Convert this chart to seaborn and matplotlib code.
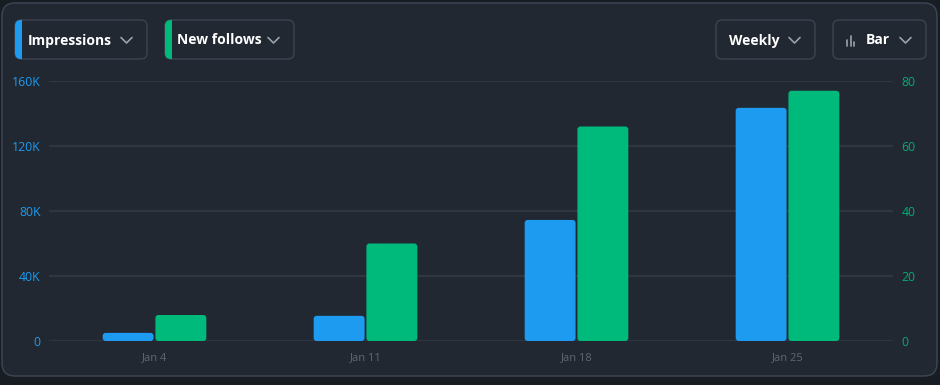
import numpy as np
import pandas as pd
import matplotlib
matplotlib.use("Agg")
import matplotlib.pyplot as plt
import seaborn as sns
from matplotlib.patches import FancyBboxPatch, Rectangle
from matplotlib.ticker import FuncFormatter, FixedLocator

# ---- data ----
weeks = ["Jan 4", "Jan 11", "Jan 18", "Jan 25"]
impressions = [5000, 15500, 74500, 143500]
new_follows = [8, 30, 66, 77]
left_ticks = [0, 40000, 80000, 120000, 160000]
right_ticks = [0, 20, 40, 60, 80]
buttons = ["Impressions", "New follows", "Weekly", "Bar"]

BG = "#212832"
OUTER = "#181d24"
GRID = "#2e3641"
BLUE = "#1d9bf0"
GREEN = "#00ba7c"
GREEN_TXT = "#00ad72"
XT = "#5f676f"

sns.set_theme(style="dark")
plt.rcParams["font.family"] = ["Open Sans", "DejaVu Sans"]

W, H = 940, 385
fig = plt.figure(figsize=(W / 100, H / 100), dpi=100, facecolor=OUTER)

# overlay (pixel coords) for card & buttons
ov = fig.add_axes([0, 0, 1, 1], zorder=0)
ov.set_xlim(0, W)
ov.set_ylim(H, 0)
ov.axis("off")
ov.patch.set_alpha(0)

card = FancyBboxPatch((2, 3), 935, 373, boxstyle="round,pad=0,rounding_size=13",
                      fc=BG, ec="#3d4754", lw=1.0)
ov.add_patch(card)

def button(x0, x1, label, tx, chev_x, strip=None, icon=False):
    b = FancyBboxPatch((x0, 20), x1 - x0, 39, boxstyle="round,pad=0,rounding_size=6",
                       fc=BG, ec="#3a4451", lw=1.0)
    ov.add_patch(b)
    if strip is not None:
        r = Rectangle((x0, 20), 6.5, 39, fc=strip, ec="none")
        ov.add_patch(r)
        r.set_clip_path(b)
    ov.text(tx, 40.5, label, color="white", fontsize=10.0, fontweight="bold",
            ha="left", va="center")
    ov.plot([chev_x, chev_x + 5.5, chev_x + 11], [37.5, 43, 37.5], color="#9aa3ab",
            lw=1.2, solid_capstyle="round")
    if icon:
        for xi, h in zip([847, 850.5, 854], [6, 10, 4]):
            ov.plot([xi, xi], [45.5, 45.5 - h], color="#9aa3ab", lw=1.2)

button(15, 147, buttons[0], 28, 121, strip=BLUE)
button(165, 294, buttons[1], 177, 268, strip=GREEN)
button(716, 815, buttons[2], 729, 789)
button(833, 926, buttons[3], 866, 900, icon=True)

# ---- main chart ----
ax = fig.add_axes([49 / W, (H - 341) / H, (893 - 49) / W, (341 - 81) / H], zorder=2)
ax.patch.set_alpha(0)
ax2 = ax.twinx()
ax2.patch.set_alpha(0)

order = ["Impressions", "New follows"]
pal = {"Impressions": BLUE, "New follows": GREEN}
df = pd.DataFrame({
    "week": weeks * 2,
    "value": impressions + new_follows,
    "metric": ["Impressions"] * len(weeks) + ["New follows"] * len(weeks),
})
df_left = df.assign(value=df["value"].where(df["metric"] == "Impressions", 0))
df_right = df.assign(value=df["value"].where(df["metric"] == "New follows", 0))

for a, d in ((ax, df_left), (ax2, df_right)):
    sns.barplot(data=d, x="week", y="value", hue="metric", hue_order=order, order=weeks,
                palette=pal, width=0.5, gap=0.035, ax=a, legend=False, saturation=1,
                errorbar=None, zorder=3)

ax.set_xlim(-0.5, 3.5)
ax.set_ylim(0, 160000)
ax2.set_ylim(0, 80)
ax.yaxis.set_major_locator(FixedLocator(left_ticks))
ax2.yaxis.set_major_locator(FixedLocator(right_ticks))
ax.yaxis.set_major_formatter(FuncFormatter(lambda v, p: "0" if v == 0 else f"{int(v/1000)}K"))

for a in (ax, ax2):
    a.set_xlabel("")
    a.set_ylabel("")
    for s in a.spines.values():
        s.set_visible(False)
    a.grid(False)

for t in left_ticks:
    ax.axhline(t, color=GRID, lw=1.6, zorder=1)

ax.tick_params(axis="y", colors=BLUE, labelsize=8.8, length=0, pad=6)
ax2.tick_params(axis="y", colors=GREEN_TXT, labelsize=8.8, length=0, pad=6)
ax.tick_params(axis="x", colors=XT, labelsize=8.0, length=0, pad=8)
for lab in ax.get_yticklabels():
    lab.set_color(BLUE)
for lab in ax2.get_yticklabels():
    lab.set_color(GREEN_TXT)
for lab in ax.get_xticklabels():
    lab.set_color(XT)

# rounded bar corners
fig.canvas.draw()
for a in (ax, ax2):
    for p in list(a.patches):
        if not isinstance(p, Rectangle):
            continue
        h = p.get_height()
        if np.isnan(h) or h == 0:
            p.set_visible(False)
            continue
        bb = p.get_window_extent()
        fc = p.get_facecolor()
        p.set_visible(False)
        nb = FancyBboxPatch((bb.x0, bb.y0), bb.width, bb.height,
                            boxstyle="round,pad=0,rounding_size=3",
                            fc=fc, ec="none", transform=None, zorder=3)
        a.add_artist(nb)

fig.savefig("out.png", dpi=100, facecolor=OUTER)
